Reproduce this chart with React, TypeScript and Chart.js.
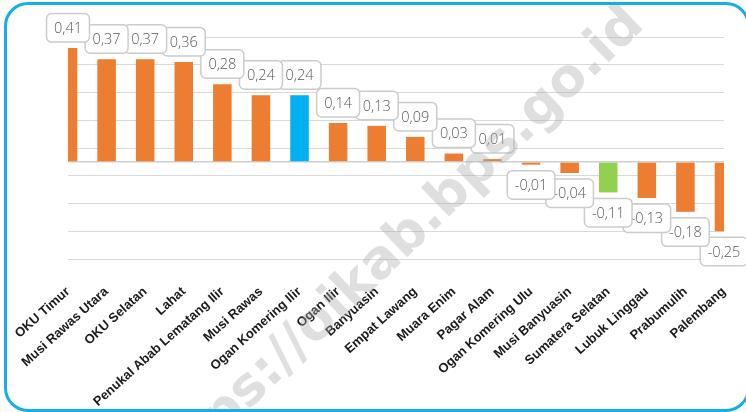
import React, { useEffect, useRef } from "react";
import { Chart, registerables } from "chart.js";

Chart.register(...registerables);

const categories = [
  "OKU Timur",
  "Musi Rawas Utara",
  "OKU Selatan",
  "Lahat",
  "Penukal Abab Lematang Ilir",
  "Musi Rawas",
  "Ogan Komering Ilir",
  "Ogan Ilir",
  "Banyuasin",
  "Empat Lawang",
  "Muara Enim",
  "Pagar Alam",
  "Ogan Komering Ulu",
  "Musi Banyuasin",
  "Sumatera Selatan",
  "Lubuk Linggau",
  "Prabumulih",
  "Palembang",
];

const values = [
  0.41, 0.37, 0.37, 0.36, 0.28, 0.24, 0.24, 0.14, 0.13, 0.09, 0.03, 0.01,
  -0.01, -0.04, -0.11, -0.13, -0.18, -0.25,
];

const gridValues = [-0.35, -0.25, -0.15, -0.05, 0, 0.05, 0.15, 0.25, 0.35, 0.45];

const highlightBlue = "Ogan Komering Ilir";
const highlightGreen = "Sumatera Selatan";

const ORANGE = "#ED7D31";
const BLUE = "#00B0F0";
const GREEN = "#92D050";

const W = 746;
const H = 412;

const fmt = (v: number) => v.toFixed(2).replace(".", ",");

const boxLabels = {
  id: "boxLabels",
  afterDatasetsDraw(chart: any) {
    const ctx = chart.ctx as CanvasRenderingContext2D;
    const meta = chart.getDatasetMeta(0);
    ctx.save();
    ctx.font = "300 14.5px 'Open Sans', sans-serif";
    ctx.textAlign = "center";
    ctx.textBaseline = "middle";
    for (let i = meta.data.length - 1; i >= 0; i--) {
      const el: any = meta.data[i];
      const v = values[i];
      const text = fmt(v);
      const tw = ctx.measureText(text).width;
      const w = tw + 15;
      const h = 28.5;
      const x = el.x - w / 2;
      const y = v >= 0 ? el.y - 6 - h : el.y + 6;
      ctx.beginPath();
      (ctx as any).roundRect(x, y, w, h, 5);
      ctx.fillStyle = "#ffffff";
      ctx.fill();
      ctx.lineWidth = 1.5;
      ctx.strokeStyle = "#cccccc";
      ctx.stroke();
      ctx.fillStyle = "#595959";
      ctx.fillText(text, el.x, y + h / 2 + 1);
    }
    ctx.restore();
  },
};

const watermark = {
  id: "watermark",
  afterDraw(chart: any) {
    const ctx = chart.ctx as CanvasRenderingContext2D;
    const size = 53;
    ctx.save();
    ctx.font = `bold ${size}px 'DejaVu Sans', sans-serif`;
    ctx.fillStyle = "rgba(170,170,170,0.38)";
    ctx.textAlign = "left";
    ctx.textBaseline = "alphabetic";
    const before = "https://oikab";
    const w1 = ctx.measureText(before).width;
    const dotW = ctx.measureText(".").width;
    ctx.translate(434, 222);
    ctx.rotate((-44 * Math.PI) / 180);
    ctx.fillText("https://oikab.bps.go.id", -(w1 + dotW / 2), size * 0.12);
    ctx.restore();
  },
};

export default function App() {
  const ref = useRef<HTMLCanvasElement | null>(null);

  useEffect(() => {
    if (!ref.current) return;
    const colors = categories.map((c) =>
      c === highlightBlue ? BLUE : c === highlightGreen ? GREEN : ORANGE
    );
    const chart = new Chart(ref.current, {
      type: "bar",
      data: {
        labels: categories,
        datasets: [
          {
            data: values,
            backgroundColor: colors,
            borderWidth: 0,
            categoryPercentage: 0.8,
            barPercentage: 0.6,
            clip: 0,
          } as any,
        ],
      },
      options: {
        responsive: false,
        animation: false,
        layout: { padding: { left: 68, right: 22, top: 37, bottom: 0 } },
        plugins: {
          legend: { display: false },
          tooltip: { enabled: false },
        },
        scales: {
          x: {
            offset: false,
            grid: { display: false, drawTicks: false },
            border: { display: false },
            ticks: {
              autoSkip: false,
              minRotation: 42,
              maxRotation: 42,
              padding: 25,
              color: "#1a1a1a",
              font: {
                family: "'Liberation Sans', Arial, sans-serif",
                size: 13,
                weight: "bold",
              },
            },
            afterFit(scale: any) {
              scale.height = H - 259;
              scale.paddingLeft = 0;
              scale.paddingRight = 0;
            },
          },
          y: {
            min: -0.35,
            max: 0.45,
            border: { display: false },
            grid: {
              drawTicks: false,
              color: (c: any) => (c.tick && c.tick.value === 0 ? "#cfcfcf" : "#d9d9d9"),
              lineWidth: (c: any) => (c.tick && c.tick.value === 0 ? 1.5 : 1),
            },
            ticks: { display: false },
            afterBuildTicks(scale: any) {
              scale.ticks = gridValues.map((v) => ({ value: v }));
            },
            afterFit(scale: any) {
              scale.width = 0;
            },
          },
        },
      },
      plugins: [boxLabels, watermark],
    });
    return () => chart.destroy();
  }, []);

  return (
    <div
      style={{
        position: "absolute",
        left: 0,
        top: 0,
        width: W,
        height: H,
        overflow: "hidden",
        background: "#ffffff",
      }}
    >
      <canvas ref={ref} width={W} height={H} style={{ position: "absolute", left: 0, top: 0 }} />
      <div
        style={{
          position: "absolute",
          left: 4,
          top: 2,
          width: 746,
          height: 410,
          border: "3px solid #16AEE6",
          borderRadius: 24,
          boxSizing: "border-box",
          pointerEvents: "none",
        }}
      />
    </div>
  );
}
